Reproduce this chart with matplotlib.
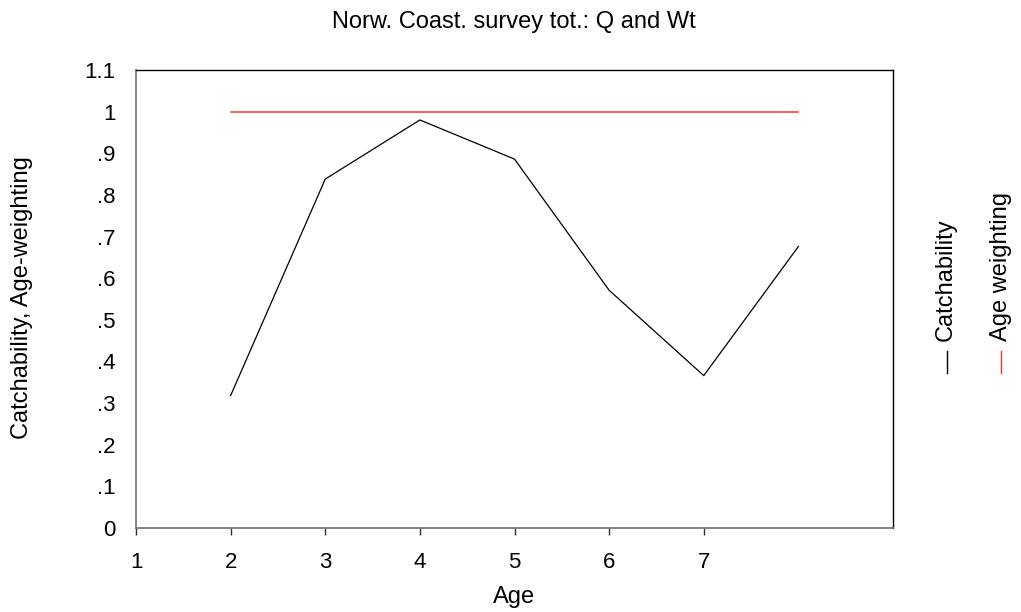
import matplotlib
matplotlib.use("Agg")
import matplotlib.pyplot as plt
from matplotlib.lines import Line2D

plt.rcParams['font.family'] = ['Liberation Sans', 'DejaVu Sans']

ages = [2, 3, 4, 5, 6, 7, 8]
catchability = [0.318, 0.838, 0.980, 0.886, 0.571, 0.366, 0.676]
age_weighting = [1, 1, 1, 1, 1, 1, 1]
xticks = [1, 2, 3, 4, 5, 6, 7]
yticks = [0, 0.1, 0.2, 0.3, 0.4, 0.5, 0.6, 0.7, 0.8, 0.9, 1.0, 1.1]
ytick_labels = ['0', '.1', '.2', '.3', '.4', '.5', '.6', '.7', '.8', '.9', '1', '1.1']

FS = 17
TFS = 16
fig = plt.figure(figsize=(10.21, 6.12), dpi=100)
W, H = 1021, 612
ax = fig.add_axes([136 / W, 1 - 528 / H, (893 - 136) / W, (528 - 70) / H])

ax.plot(ages, catchability, color='black', lw=0.9)
ax.plot(ages, age_weighting, color='#ff3030', lw=1.1)

ax.set_xlim(1, 9)
ax.set_ylim(0, 1.1)
ax.set_xticks(xticks)
ax.set_xticklabels([str(t) for t in xticks])
ax.set_yticks(yticks)
ax.set_yticklabels(ytick_labels)
ax.tick_params(axis='x', direction='out', length=5, width=1, color='#303030', labelsize=TFS, pad=12)
ax.tick_params(axis='y', length=0, labelsize=TFS, pad=14.5)
for s in ['left', 'bottom']:
    ax.spines[s].set_color('#707070')
    ax.spines[s].set_linewidth(1.2)
for s in ['top', 'right']:
    ax.spines[s].set_color('black')
    ax.spines[s].set_linewidth(1.0)

fig.text(514 / W, 1 - 22 / H, 'Norw. Coast. survey tot.: Q and Wt', ha='center', va='center', fontsize=FS)
fig.text(514 / W, 1 - 597 / H, 'Age', ha='center', va='center', fontsize=FS)
fig.text(22 / W, 1 - 298 / H, 'Catchability, Age-weighting', ha='center', va='center', rotation=90, fontsize=FS)

# Rotated legend on the right
fig.text(946 / W, 1 - 341 / H, 'Catchability', ha='center', va='bottom', rotation=90, fontsize=FS)
fig.text(1001 / W, 1 - 341 / H, 'Age weighting', ha='center', va='bottom', rotation=90, fontsize=FS)
fig.add_artist(Line2D([947 / W, 947 / W], [1 - 373 / H, 1 - 351 / H], color='black', lw=1, transform=fig.transFigure))
fig.add_artist(Line2D([1000.5 / W, 1000.5 / W], [1 - 373 / H, 1 - 351 / H], color='#ff3030', lw=1, transform=fig.transFigure))

fig.savefig('out.png', dpi=100)
